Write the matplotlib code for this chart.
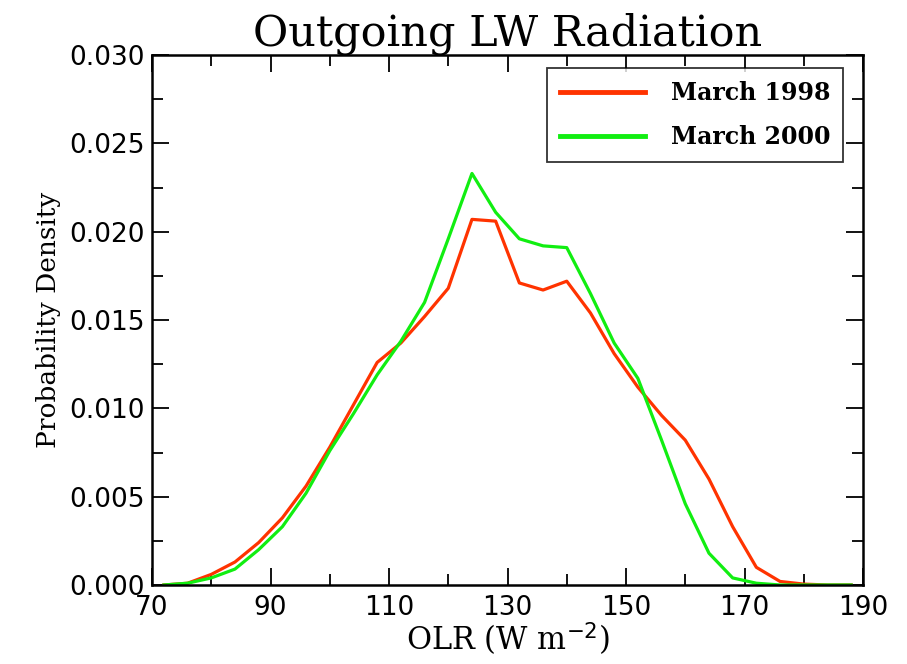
import numpy as np
import matplotlib
matplotlib.use("Agg")
import matplotlib.pyplot as plt
from matplotlib.ticker import MultipleLocator, FormatStrFormatter

# OLR bins (W m-2), every 4
olr = [72, 76, 80, 84, 88, 92, 96, 100, 104, 108, 112, 116, 120, 124, 128,
       132, 136, 140, 144, 148, 152, 156, 160, 164, 168, 172, 176, 180, 184, 188]

pdf_1998 = [0.0, 0.0001, 0.0006, 0.0013, 0.0024, 0.0038, 0.0056, 0.0078,
            0.0102, 0.0126, 0.0137, 0.0152, 0.0168, 0.0207, 0.0206, 0.0171,
            0.0167, 0.0172, 0.0154, 0.0131, 0.0112, 0.0096, 0.0082, 0.0060,
            0.0033, 0.0010, 0.0002, 0.00005, 0.0, 0.0]

pdf_2000 = [0.0, 0.0001, 0.0004, 0.0009, 0.0020, 0.0033, 0.0052, 0.0076,
            0.0097, 0.0119, 0.0138, 0.0160, 0.0196, 0.0233, 0.0211, 0.0196,
            0.0192, 0.0191, 0.0165, 0.0137, 0.0117, 0.0082, 0.0046, 0.0018,
            0.0004, 0.0001, 0.0, 0.0, 0.0, 0.0]

xticks = [70, 90, 110, 130, 150, 170, 190]

serif = "DejaVu Serif"

fig = plt.figure(figsize=(9.07, 6.64), dpi=100)
ax = fig.add_axes([0.1676, 0.119, 0.7839, 0.798])

ax.plot(olr, pdf_1998, color="#ff3300", lw=2.3, label="March 1998")
ax.plot(olr, pdf_2000, color="#11ee11", lw=2.3, label="March 2000")

ax.set_xlim(70, 190)
ax.set_ylim(0, 0.030)
ax.set_xticks(xticks)
ax.set_xticks([x + 10 for x in xticks[:-1]], minor=True)
ax.yaxis.set_major_locator(MultipleLocator(0.005))
ax.yaxis.set_minor_locator(MultipleLocator(0.0025))
ax.yaxis.set_major_formatter(FormatStrFormatter("%.3f"))

ax.tick_params(which="both", direction="in", top=True, right=True, width=1.3)
ax.tick_params(which="major", length=12, labelsize=19)
ax.tick_params(axis="x", which="major", pad=7)
ax.tick_params(axis="y", which="major", pad=5)
ax.tick_params(which="minor", length=8)
for lab in ax.get_xticklabels() + ax.get_yticklabels():
    lab.set_family("DejaVu Sans")
for sp in ax.spines.values():
    sp.set_linewidth(1.8)

ax.set_title("Outgoing LW Radiation", family=serif, fontsize=31, pad=6)
ax.set_xlabel(r"OLR (W m$^{-2}$)", family=serif, fontsize=22, labelpad=0)
ax.set_ylabel("Probability Density", family=serif, fontsize=19, labelpad=6)

leg = ax.legend(loc="upper right", prop={"family": serif, "weight": "bold", "size": 17},
                frameon=True, fancybox=False, edgecolor="black", handlelength=3.6,
                borderpad=0.55, labelspacing=0.85, handletextpad=1.1,
                borderaxespad=0, bbox_to_anchor=(0.972, 0.975))
leg.get_frame().set_linewidth(1.3)
for line in leg.get_lines():
    line.set_linewidth(3.5)

fig.savefig("out.png", dpi=100)
